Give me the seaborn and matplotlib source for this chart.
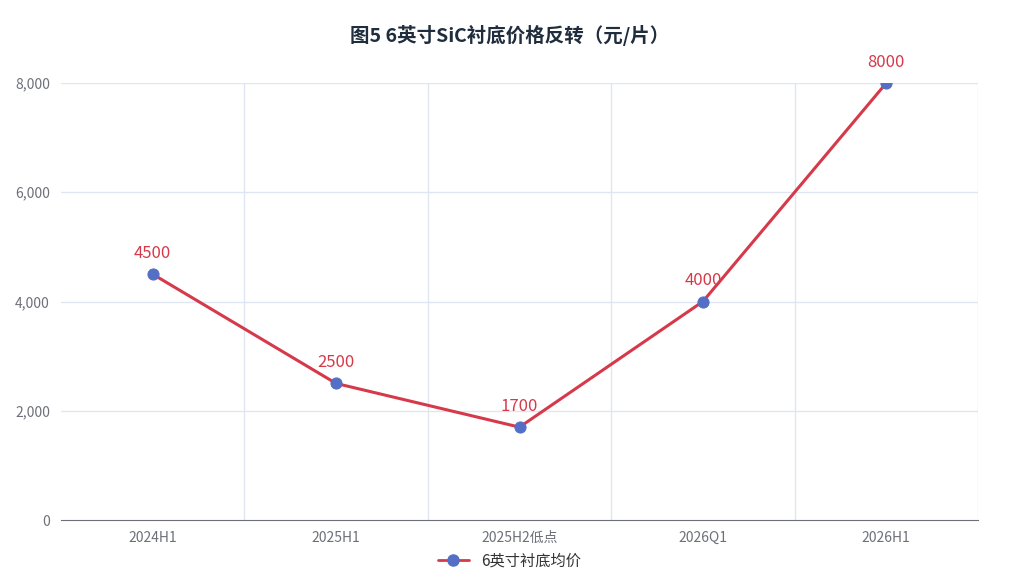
import matplotlib
matplotlib.use("Agg")
import matplotlib.pyplot as plt
import seaborn as sns
import pandas as pd
from matplotlib.lines import Line2D

categories = ["2024H1", "2025H1", "2025H2低点", "2026Q1", "2026H1"]
values = [4500, 2500, 1700, 4000, 8000]
series_name = "6英寸衬底均价"
title = "图5 6英寸SiC衬底价格反转（元/片）"

sns.set_style("white")
plt.rcParams['font.family'] = ['Noto Sans CJK SC', 'DejaVu Sans']

df = pd.DataFrame({"x": range(len(categories)), "y": values})
fig = plt.figure(figsize=(10.19, 5.87), dpi=100)
ax = fig.add_axes([61/1019, 1-520/587, (978-61)/1019, (520-83)/587])
line_c = "#d63a4a"
pt_c = "#5470c6"
sns.lineplot(data=df, x="x", y="y", ax=ax, color=line_c, linewidth=2.2,
             marker="o", markersize=8, markerfacecolor=pt_c, markeredgecolor=pt_c, zorder=3)
for i, v in enumerate(values):
    ax.text(i, v + 220, str(v), ha="center", va="bottom", color=line_c, fontsize=12)

ax.set_xlim(-0.5, len(categories) - 0.5)
ax.set_ylim(0, 8000)
ax.set_xticks(range(len(categories)))
ax.set_xticklabels(categories, color="#6e7079", fontsize=10)
ax.set_xticks([i - 0.5 for i in range(len(categories) + 1)], minor=True)
ax.tick_params(axis="x", which="major", length=0, pad=8)
ax.tick_params(axis="x", which="minor", length=5, color="#6e7079")
ax.set_yticks([0, 2000, 4000, 6000, 8000])
ax.set_yticklabels(["0", "2,000", "4,000", "6,000", "8,000"], color="#6e7079", fontsize=10)
ax.tick_params(axis="y", length=0, pad=8)
ax.grid(False)
for y in [2000, 4000, 6000, 8000]:
    ax.axhline(y, color="#e0e6f1", lw=1, zorder=0)
for x in [i - 0.5 for i in range(1, len(categories) + 1)]:
    ax.axvline(x, color="#e0e6f1", lw=1, zorder=0)
for s in ["top", "right", "left"]:
    ax.spines[s].set_visible(False)
ax.spines["bottom"].set_color("#6e7079")
ax.set_xlabel("")
ax.set_ylabel("")

fig.text(0.5, 1-35/587, title, ha="center", va="center", fontsize=14, fontweight="bold", color="#1f2d3d")
h = Line2D([0], [0], color=line_c, lw=2, marker="o", markersize=8, markerfacecolor=pt_c, markeredgecolor=pt_c)
fig.legend([h], [series_name], loc="center", bbox_to_anchor=(0.5, 1-561/587), frameon=False,
           fontsize=11, handlelength=2, labelcolor="#333333")
fig.savefig("out.png", dpi=100, facecolor="white")
